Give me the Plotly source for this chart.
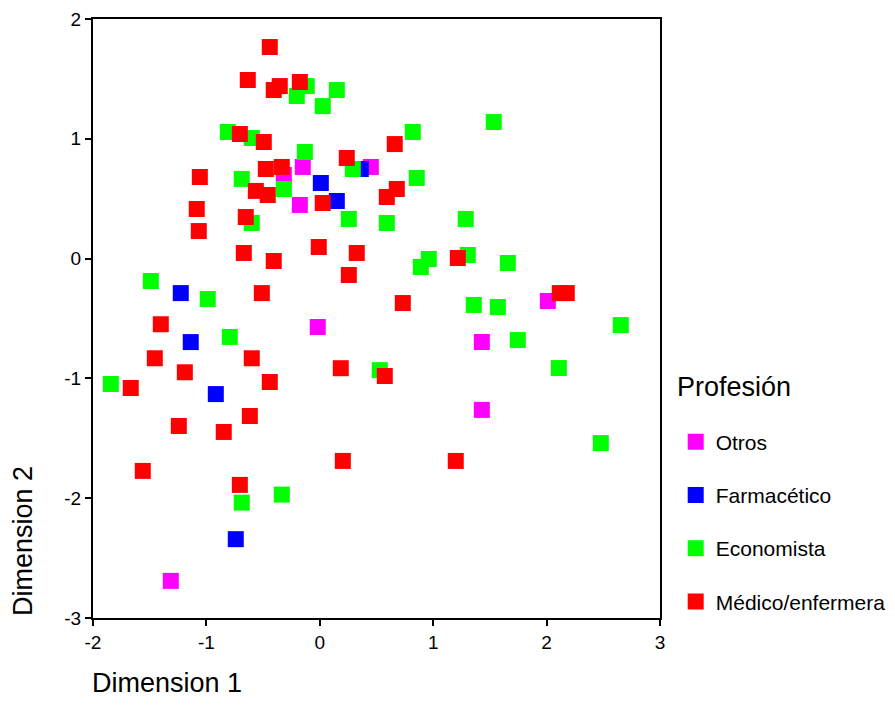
import plotly.graph_objects as go

# ---- data ----
otros_x = [-0.150, -0.317, 0.450, -0.176, -0.018, 2.011, 1.429, 1.429, -1.314]
otros_y = [0.765, 0.698, 0.765, 0.448, -0.571, -0.354, -0.696, -1.263, -2.690]

farm_x = [0.362, 0.009, 0.150, -1.226, -1.138, -0.917, -0.741]
farm_y = [0.748, 0.631, 0.481, -0.288, -0.697, -1.131, -2.342]

econ_x = [-0.203, -0.115, 0.150, 0.026, -0.811, -0.600, -0.132, 0.291, -0.688, -0.317,
          -0.600, 0.256, 0.591, 0.820, 1.534, 0.855, 1.287, 0.891, 0.961, 1.305,
          1.658, 1.358, 1.570, 2.654, 1.746, 2.108, 2.478, 0.529, -1.490, -0.988,
          -0.794, -1.843, -0.688, -0.335]
econ_y = [1.357, 1.440, 1.407, 1.273, 1.057, 1.007, 0.890, 0.748, 0.665, 0.581,
          0.297, 0.331, 0.297, 1.057, 1.140, 0.673, 0.331, -0.070, -0.003, 0.030,
          -0.037, -0.387, -0.404, -0.555, -0.680, -0.914, -1.540, -0.931, -0.187, -0.337,
          -0.654, -1.047, -2.037, -1.970]

med_x = [-0.441, -0.635, -0.406, -0.353, -0.176, -0.705, -0.494, 0.238, -0.476, -0.335,
         -1.058, -0.564, -0.459, 0.026, -1.085, -0.653, -1.067, -0.670, -0.406, -0.009,
         0.326, 0.661, 0.679, 0.591, 1.217, 0.256, -0.511, 0.732, 2.116, 2.178,
         -1.402, -1.455, -0.600, -1.190, 0.185, 0.573, -1.667, -0.441, -0.617, -1.243,
         -0.847, -1.561, -0.705, 0.203, 1.199]
med_y = [1.766, 1.491, 1.407, 1.440, 1.474, 1.040, 0.973, 0.840, 0.748, 0.765,
         0.681, 0.565, 0.531, 0.464, 0.414, 0.347, 0.230, 0.047, -0.020, 0.097,
         0.047, 0.956, 0.581, 0.514, 0.005, -0.137, -0.288, -0.371, -0.288, -0.288,
         -0.548, -0.832, -0.832, -0.949, -0.915, -0.980, -1.080, -1.030, -1.314, -1.397,
         -1.447, -1.772, -1.889, -1.689, -1.689]

groups = ["Otros", "Farmacético", "Economista", "Médico/enfermera"]
xs = [otros_x, farm_x, econ_x, med_x]
ys = [otros_y, farm_y, econ_y, med_y]
colors = ["#FF00FF", "#0000FF", "#00FF00", "#FF0000"]

x_ticks = [-2, -1, 0, 1, 2, 3]
y_ticks = [-3, -2, -1, 0, 1, 2]

FONT = "Liberation Sans, Arial, sans-serif"

fig = go.Figure()
for name, x, y, c in zip(groups, xs, ys, colors):
    fig.add_trace(go.Scatter(
        x=x, y=y, mode="markers", name=name, legendgroup=name,
        marker=dict(symbol="square", size=16, color=c, line=dict(width=0)),
    ))

axis_common = dict(
    showgrid=False, zeroline=False, showline=True, linecolor="black", linewidth=2,
    mirror=True, ticks="outside", ticklen=6, tickwidth=2, tickcolor="black",
    tickfont=dict(family=FONT, size=19, color="black"),
)
fig.update_xaxes(range=[-2, 3], tickvals=x_ticks, ticktext=[str(v) for v in x_ticks], **axis_common)
fig.update_yaxes(range=[-3, 2], tickvals=y_ticks, ticktext=[str(v) for v in y_ticks], **axis_common)

# page body has an 8px margin, so the figure is sized to fill the rest of the window
fig.update_layout(
    width=887, height=714,
    margin=dict(l=85, r=235, t=11, b=104, autoexpand=False),
    plot_bgcolor="white", paper_bgcolor="white",
    font=dict(family=FONT, color="black"),
    showlegend=True,
    legend=dict(
        font=dict(family=FONT, size=21),
        x=1.0277, xanchor="left", y=0.328, yanchor="top",
        tracegroupgap=23, bgcolor="rgba(0,0,0,0)",
    ),
    annotations=[
        dict(text="Profesión", xref="paper", yref="paper",
             x=(675 - 93) / 567, y=(618 - 387) / 599,
             xanchor="left", yanchor="middle", showarrow=False,
             font=dict(family=FONT, size=27)),
        dict(text="Dimension 1", xref="paper", yref="paper", x=-0.005, y=-0.1085,
             xanchor="left", yanchor="middle", showarrow=False,
             font=dict(family=FONT, size=27)),
        dict(text="Dimension 2", xref="paper", yref="paper", x=-0.1235, y=0,
             xanchor="center", yanchor="bottom", textangle=-90, showarrow=False,
             font=dict(family=FONT, size=27)),
    ],
)

fig.write_html("out.html")
